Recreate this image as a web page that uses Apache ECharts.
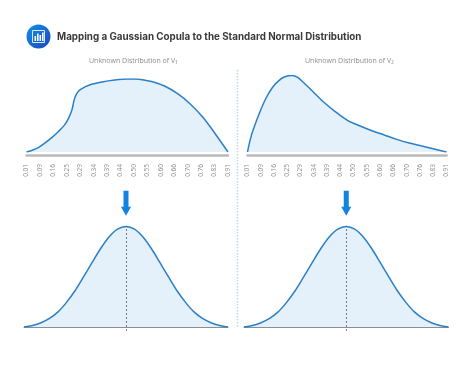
<!DOCTYPE html>
<html>
<head>
<meta charset="utf-8">
<style>html,body{margin:0;padding:0;background:#fff}#main{width:474px;height:367px}</style>
<script src="https://cdn.jsdelivr.net/npm/echarts@6/dist/echarts.min.js"></script>
</head>
<body>
<div id="main"></div>
<script>
// tick labels under the two top charts
const tickLabels = ['0.01','0.09','0.16','0.25','0.29','0.34','0.39','0.44','0.50','0.55','0.60','0.66','0.70','0.76','0.83','0.91'];

// curves: position in tick units, height as % of peak
const v1Pos = [0,0.47,0.94,1.41,1.88,2.34,2.81,3.09,3.38,3.56,3.75,4.03,4.69,5.63,6.56,7.5,7.97,8.44,9.38,10.31,11.25,12.19,13.13,14.06,15];
const v1Val = [0,2.7,6.8,12.8,19.6,27.4,36.5,44.7,57.5,72.1,80.4,85.8,91.8,95.9,98.6,100,100,99.5,96.3,90,79.9,65.8,47.5,24.7,0];
const v2Pos = [0,0.23,0.47,0.94,1.41,1.88,2.34,2.81,3.38,3.75,4.22,4.69,5.63,6.56,7.5,8.44,9.38,10.31,11.25,12.19,13.13,14.06,15];
const v2Val = [0,17.8,30.9,52.6,70.9,84.3,93,98.3,100,97.8,90.9,83,67,53.5,41.7,34.3,27.8,22.2,16.5,11.7,7.8,3.9,0];
const normalPos = [-3,-2.75,-2.5,-2.25,-2,-1.75,-1.5,-1.25,-1,-0.75,-0.5,-0.25,0,0.25,0.5,0.75,1,1.25,1.5,1.75,2,2.25,2.5,2.75,3];
const normalVal = [0,1.5,4.2,8.5,15,24.5,36,49.8,64,77.8,89.5,97.3,100,97.3,89.5,77.8,64,49.8,36,24.5,15,8.5,4.2,1.5,0];

const blue = '#2a7fc6', fill = '#e4f1fb', grey = '#8c8c8c';
const arrow = 'path://M2.5,0 L7.5,0 L7.5,16 L10,16 L5,25 L0,16 L2.5,16 Z';

function zip(xs, ys) { return xs.map((x, i) => [x, ys[i]]); }

function topAxis(i) {
	return {
		gridIndex: i, type: 'value', min: 0, max: 15, interval: 1, offset: 3,
		splitLine: {show: false}, axisTick: {show: false},
		axisLine: {onZero: false, lineStyle: {color: '#b9b9b9', width: 2.5}},
		axisLabel: {
			rotate: 90, margin: 9, fontSize: 6.5, color: grey, fontFamily: 'Open Sans',
			formatter: v => tickLabels[v]
		}
	};
}
function bottomAxis(i) {
	return {
		gridIndex: i, type: 'value', min: -3, max: 3,
		splitLine: {show: false}, axisTick: {show: false}, axisLabel: {show: false},
		axisLine: {onZero: true, lineStyle: {color: '#8a8f96', width: 1}}
	};
}
function curve(i, data, extra) {
	return Object.assign({
		type: 'line', xAxisIndex: i, yAxisIndex: i, data: data, smooth: 0.33, showSymbol: false,
		lineStyle: {color: blue, width: 1.5}, areaStyle: {color: fill, opacity: 1}, silent: true
	}, extra);
}
function normalExtra() {
	return {
		markLine: {
			silent: true, symbol: 'none', label: {show: false}, animation: false,
			lineStyle: {color: '#55606b', type: [2, 2], width: 0.8},
			data: [[{coord: [0, -4]}, {coord: [0, 100]}]]
		},
		markPoint: {
			silent: true, symbol: arrow, symbolSize: [10, 25], label: {show: false},
			itemStyle: {color: '#1283e0'}, animation: false,
			data: [{coord: [0, 123]}]
		}
	};
}

const option = {
	animation: false,
	backgroundColor: '#fff',
	title: [
		{text: 'Mapping a Gaussian Copula to the Standard Normal Distribution', left: 52, top: 27,
			textStyle: {fontFamily: 'Inter', fontSize: 9.8, fontWeight: 700, color: '#3a3a3a'}},
		{text: 'Unknown Distribution of V₁', left: 84, top: 52,
			textStyle: {fontFamily: 'Open Sans', fontSize: 7, fontWeight: 400, color: grey}},
		{text: 'Unknown Distribution of V₂', left: 300, top: 52,
			textStyle: {fontFamily: 'Open Sans', fontSize: 7, fontWeight: 400, color: grey}}
	],
	grid: [
		{left: 26.5, width: 201.5, top: 79, height: 73},
		{left: 247.5, width: 199, top: 75.5, height: 76.5},
		{left: 24, width: 204, top: 196.3, height: 134.7},
		{left: 244, width: 204.5, top: 196.3, height: 134.7}
	],
	xAxis: [topAxis(0), topAxis(1), bottomAxis(2), bottomAxis(3)],
	yAxis: [
		{gridIndex: 0, type: 'value', min: 0, max: 100, show: false},
		{gridIndex: 1, type: 'value', min: 0, max: 100, show: false},
		{gridIndex: 2, type: 'value', min: -4, max: 130, show: false},
		{gridIndex: 3, type: 'value', min: -4, max: 130, show: false}
	],
	series: [
		curve(0, zip(v1Pos, v1Val)),
		curve(1, zip(v2Pos, v2Val)),
		curve(2, zip(normalPos, normalVal), normalExtra()),
		curve(3, zip(normalPos, normalVal), normalExtra())
	],
	graphic: [
		// centre divider
		{type: 'line', shape: {x1: 237.5, y1: 70, x2: 237.5, y2: 328},
			style: {stroke: '#bcd9f0', lineWidth: 1.5, lineDash: [1.5, 1.5]}},
		// header badge
		{type: 'circle', shape: {cx: 38.5, cy: 36.5, r: 12},
			style: {fill: new echarts.graphic.LinearGradient(0, 0, 1, 1, [
				{offset: 0, color: '#1291e6'}, {offset: 1, color: '#1a45c0'}])}},
		{type: 'rect', shape: {x: 32.5, y: 30.5, width: 12, height: 12},
			style: {fill: 'none', stroke: '#dbe9fb', lineWidth: 1}},
		{type: 'rect', shape: {x: 34.5, y: 36, width: 1.6, height: 5}, style: {fill: '#fff'}},
		{type: 'rect', shape: {x: 37, y: 33.5, width: 1.6, height: 7.5}, style: {fill: '#fff'}},
		{type: 'rect', shape: {x: 39.5, y: 35, width: 1.6, height: 6}, style: {fill: '#fff'}},
		{type: 'rect', shape: {x: 42, y: 32.5, width: 1.6, height: 8.5}, style: {fill: '#fff'}}
	]
};

echarts.init(document.getElementById('main'), null, {renderer: 'canvas'}).setOption(option);
</script>
</body>
</html>
